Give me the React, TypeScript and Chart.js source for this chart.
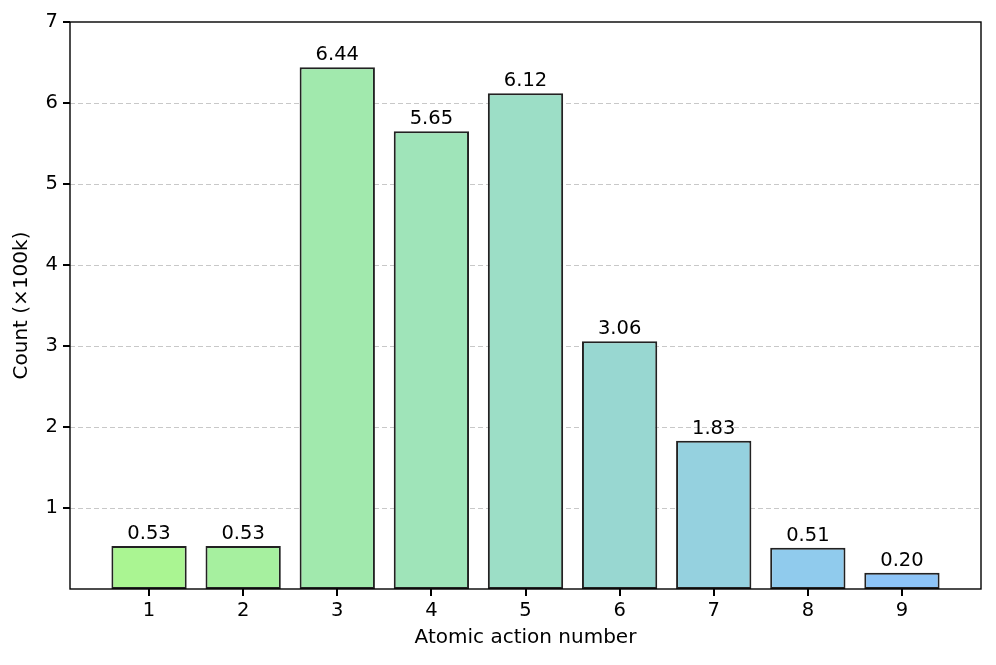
import React, { useEffect, useRef } from "react";
import { Chart, registerables } from "chart.js";

Chart.register(...registerables);

const categories = [1, 2, 3, 4, 5, 6, 7, 8, 9];
const counts = [0.53, 0.53, 6.44, 5.65, 6.12, 3.06, 1.83, 0.51, 0.2];
const barColors = [
  "#aaf592",
  "#a6f09f",
  "#a1e9ad",
  "#9fe4b9",
  "#9cdec6",
  "#98d7d1",
  "#95d1df",
  "#90cbed",
  "#8dc4f7",
];
const yTicks = [1, 2, 3, 4, 5, 6, 7];

const FONT = "'DejaVu Sans', sans-serif";

const frameAndLabels = {
  id: "frameAndLabels",
  afterDraw(chart: any) {
    const { ctx, chartArea } = chart;
    const meta = chart.getDatasetMeta(0);
    ctx.save();
    ctx.fillStyle = "#000";
    ctx.font = `19.5px ${FONT}`;
    ctx.textAlign = "center";
    ctx.textBaseline = "alphabetic";
    meta.data.forEach((bar: any, i: number) => {
      ctx.fillText(counts[i].toFixed(2), bar.x, bar.y - 7);
    });
    ctx.strokeStyle = "#000";
    ctx.lineWidth = 1.4;
    ctx.setLineDash([]);
    ctx.strokeRect(
      chartArea.left,
      chartArea.top,
      chartArea.right - chartArea.left,
      chartArea.bottom - chartArea.top
    );
    // tick marks
    const xs = chart.scales.x;
    const ys = chart.scales.y;
    ctx.fillStyle = "#000";
    categories.forEach((v) => {
      const px = Math.round(xs.getPixelForValue(v));
      ctx.fillRect(px - 1, chartArea.bottom, 2, 7);
    });
    yTicks.forEach((v) => {
      const py = Math.round(ys.getPixelForValue(v));
      ctx.fillRect(chartArea.left - 7, py - 1, 7, 2);
    });
    ctx.restore();
  },
};

export default function App() {
  const ref = useRef<HTMLCanvasElement>(null);
  useEffect(() => {
    if (!ref.current) return;
    const chart = new Chart(ref.current, {
      type: "bar",
      data: {
        datasets: [
          {
            data: categories.map((c, i) => ({ x: c, y: counts[i] })),
            backgroundColor: barColors,
            borderColor: "#222222",
            borderWidth: 2,
            borderSkipped: false,
            barPercentage: 0.8,
            categoryPercentage: 1,
          },
        ],
      },
      options: {
        animation: false,
        responsive: false,
        maintainAspectRatio: false,
        layout: { padding: { left: 0, right: 15, top: 22, bottom: 0 } },
        plugins: { legend: { display: false }, tooltip: { enabled: false } },
        scales: {
          x: {
            type: "linear",
            offset: false,
            min: 0.16,
            max: 9.84,
            afterBuildTicks: (s: any) => {
              s.ticks = categories.map((v) => ({ value: v }));
            },
            afterFit: (s: any) => {
              s.height = 76;
            },
            grid: {
              display: false,
              drawTicks: true,
              tickLength: 6,
            },
            border: { display: false },
            ticks: {
              color: "#000",
              font: { family: FONT, size: 19.5 },
              padding: 4,
              callback: (v: any) => String(v),
            },
            title: {
              display: true,
              text: "Atomic action number",
              color: "#000",
              font: { family: FONT, size: 20 },
              padding: { top: 0, bottom: 15 },
            },
          },
          y: {
            type: "linear",
            min: 0,
            max: 7,
            afterBuildTicks: (s: any) => {
              s.ticks = yTicks.map((v) => ({ value: v }));
            },
            afterFit: (s: any) => {
              s.width = 70;
            },
            grid: {
              color: (c: any) => (c.tick && c.tick.value === 7 ? "rgba(0,0,0,0)" : "#c8c8c8"),
              lineWidth: 1,
              drawTicks: true,
              tickLength: 7,
              tickColor: "rgba(0,0,0,0)",
            },
            border: { display: false, dash: [5, 3] },
            ticks: {
              color: "#000",
              font: { family: FONT, size: 19.5 },
              padding: 5,
            },
            title: {
              display: true,
              text: "Count (×100k)",
              color: "#000",
              font: { family: FONT, size: 20 },
              padding: { top: 10, bottom: 0 },
            },
          },
        },
      },
      plugins: [frameAndLabels],
    } as any);
    return () => chart.destroy();
  }, []);
  return (
    <div style={{ position: "absolute", left: 0, top: 0, width: 996, height: 665, background: "#fff" }}>
      <canvas ref={ref} width={996} height={665} style={{ display: "block" }} />
    </div>
  );
}
